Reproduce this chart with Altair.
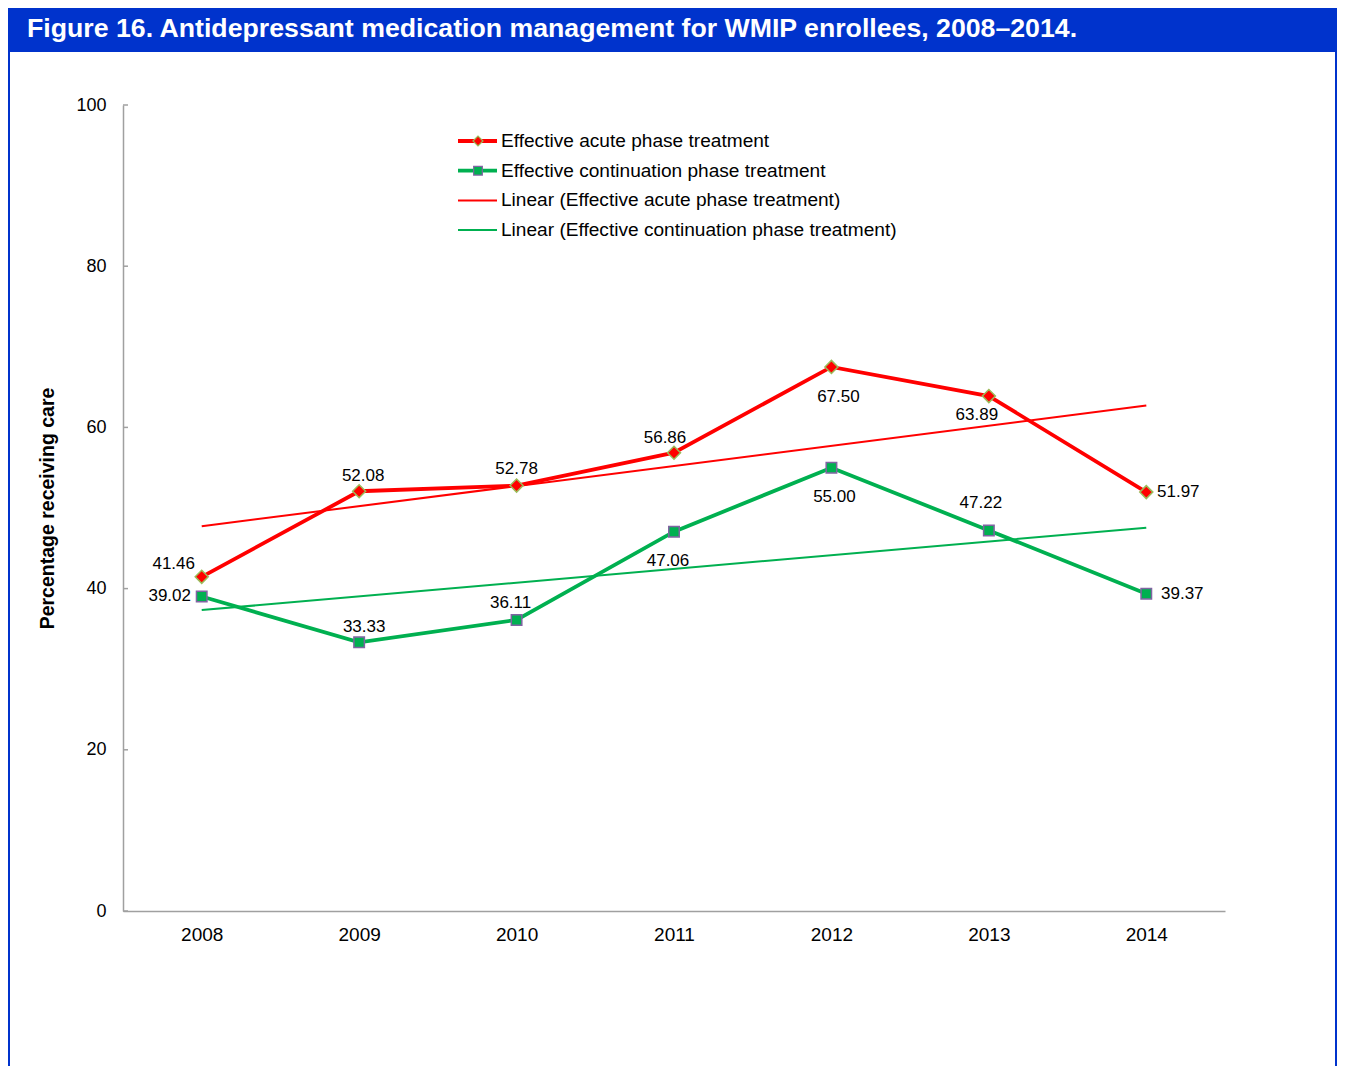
import altair as alt
import pandas as pd

# ---------------- data ----------------
years = [2008, 2009, 2010, 2011, 2012, 2013, 2014]
acute = [41.46, 52.08, 52.78, 56.86, 67.50, 63.89, 51.97]
continuation = [39.02, 33.33, 36.11, 47.06, 55.00, 47.22, 39.37]
series_names = ["Effective acute phase treatment", "Effective continuation phase treatment"]
trend_names = ["Linear (Effective acute phase treatment)",
               "Linear (Effective continuation phase treatment)"]
y_ticks = [0, 20, 40, 60, 80, 100]
title_text = "Figure 16. Antidepressant medication management for WMIP enrollees, 2008–2014."
y_title = "Percentage receiving care"

# ---------------- styles ----------------
RED = "#FF0000"
GREEN = "#00B050"
DIAMOND_EDGE = "#9BBB59"
SQUARE_EDGE = "#8064A2"
BLUE = "#0033CC"
AXIS_GRAY = "#A0A0A0"
FONT = "Liberation Sans"

# label pixel offsets (style, per point)
acute_dx = [-28, 4, 0, -9, 7, -12, 32]
acute_dy = [-13, -15, -17, -15, 30, 19, 0]
cont_dx = [-32, 5, -6, -6, 3, -8, 36]
cont_dy = [0, -15, -17, 29, 29, -27, 0]

W, H = 1102, 806
PAD = {"left": 115, "top": 97, "right": 112, "bottom": 155}

n = len(years)
df = pd.DataFrame({
    "year": years * 2,
    "value": acute + continuation,
    "series": [series_names[0]] * n + [series_names[1]] * n,
    "idx": list(range(2 * n)),
})
label_dx = acute_dx + cont_dx
label_dy = acute_dy + cont_dy

x_enc = alt.X("year:Q",
              scale=alt.Scale(domain=[2007.5, 2014.5], nice=False, zero=False),
              axis=alt.Axis(values=years, format="d", ticks=False, grid=False,
                            labelFontSize=19, labelPadding=14, labelColor="black",
                            domainColor=AXIS_GRAY, domainWidth=1.5, title=None))
y_axis = alt.Axis(values=y_ticks, ticks=False, grid=False,
                  labelFontSize=18, labelPadding=17, labelColor="black",
                  domainColor=AXIS_GRAY, domainWidth=1.5,
                  title=y_title, titleFontSize=19.5, titleFontWeight="bold",
                  titleColor="black", titlePadding=18)
y_enc = alt.Y("value:Q", scale=alt.Scale(domain=[0, 100], nice=False), axis=y_axis)

line_color = alt.Color("series:N", scale=alt.Scale(domain=series_names, range=[RED, GREEN]),
                       legend=None)

base = alt.Chart(df)

trend = base.transform_regression("year", "value", groupby=["series"], method="linear").mark_line(
    strokeWidth=2).encode(x=x_enc, y=y_enc, color=line_color)

lines = base.mark_line(strokeWidth=3.8).encode(x=x_enc, y=y_enc, color=line_color)

points = base.mark_point(filled=True, strokeWidth=1.5, opacity=1).encode(
    x=x_enc, y=y_enc,
    fill=alt.Fill("series:N", scale=alt.Scale(domain=series_names, range=[RED, GREEN]), legend=None),
    stroke=alt.Stroke("series:N", scale=alt.Scale(domain=series_names, range=[DIAMOND_EDGE, SQUARE_EDGE]),
                      legend=None),
    shape=alt.Shape("series:N", scale=alt.Scale(domain=series_names, range=["diamond", "square"]),
                    legend=None),
    size=alt.Size("series:N", scale=alt.Scale(domain=series_names, range=[170, 110]), legend=None),
)

label_layers = []
for k in range(2 * n):
    label_layers.append(
        base.transform_filter(f"datum.idx == {k}").mark_text(
            fontSize=17, color="black", align="center", baseline="middle",
            dx=label_dx[k], dy=label_dy[k]).encode(
            x=x_enc, y=y_enc, text=alt.Text("value:Q", format=".2f"))
    )

# inward y-axis ticks
tick_df = pd.DataFrame({"value": y_ticks})
yticks = alt.Chart(tick_df).mark_rule(color=AXIS_GRAY, strokeWidth=1.5).encode(
    y=y_enc, x=alt.value(0), x2=alt.value(5))

# legend (one row per entry)
leg_labels = series_names + trend_names
leg_colors = [RED, GREEN, RED, GREEN]
leg_widths = [3.8, 3.8, 2, 2]
leg_edges = [DIAMOND_EDGE, SQUARE_EDGE, None, None]
leg_shapes = ["diamond", "square", None, None]
leg_sizes = [100, 75, None, None]
leg_layers = []
for i, lab in enumerate(leg_labels):
    ly = 36 + i * 29.7
    d = pd.DataFrame({"label": [lab]})
    c = alt.Chart(d)
    leg_layers.append(c.mark_rule(color=leg_colors[i], strokeWidth=leg_widths[i]).encode(
        x=alt.value(335), x2=alt.value(374), y=alt.value(ly)))
    if leg_shapes[i]:
        leg_layers.append(c.mark_point(
            filled=True, shape=leg_shapes[i], size=leg_sizes[i], fill=leg_colors[i],
            stroke=leg_edges[i], strokeWidth=1.2, opacity=1).encode(
            x=alt.value(355), y=alt.value(ly)))
    leg_layers.append(c.mark_text(align="left", baseline="middle", fontSize=19.1, color="black").encode(
        x=alt.value(378), y=alt.value(ly), text="label:N"))

# header band and frame
head_df = pd.DataFrame({"t": [title_text]})
band = alt.Chart(head_df).mark_rect(color=BLUE).encode(
    x=alt.value(-PAD["left"]), x2=alt.value(W + PAD["right"]),
    y=alt.value(-PAD["top"]), y2=alt.value(-53))
head_text = alt.Chart(head_df).mark_text(
    align="left", baseline="middle", fontSize=26.7, fontWeight="bold", color="white").encode(
    x=alt.value(-96), y=alt.value(-76), text="t:N")
frame_l = alt.Chart(head_df).mark_rule(color=BLUE, strokeWidth=2).encode(
    x=alt.value(-PAD["left"] + 1), y=alt.value(-53), y2=alt.value(H + PAD["bottom"]))
frame_r = alt.Chart(head_df).mark_rule(color=BLUE, strokeWidth=2).encode(
    x=alt.value(W + PAD["right"] - 1), y=alt.value(-53), y2=alt.value(H + PAD["bottom"]))

chart = alt.layer(
    trend, lines, points, yticks, *label_layers,
    band, head_text, frame_l, frame_r, *leg_layers,
).properties(
    width=W, height=H,
    autosize=alt.AutoSizeParams(type="none"),
    padding=PAD,
    background="white",
).configure(font=FONT).configure_view(stroke=None)

chart.save("out.html", embed_options={"renderer": "svg", "actions": False})
